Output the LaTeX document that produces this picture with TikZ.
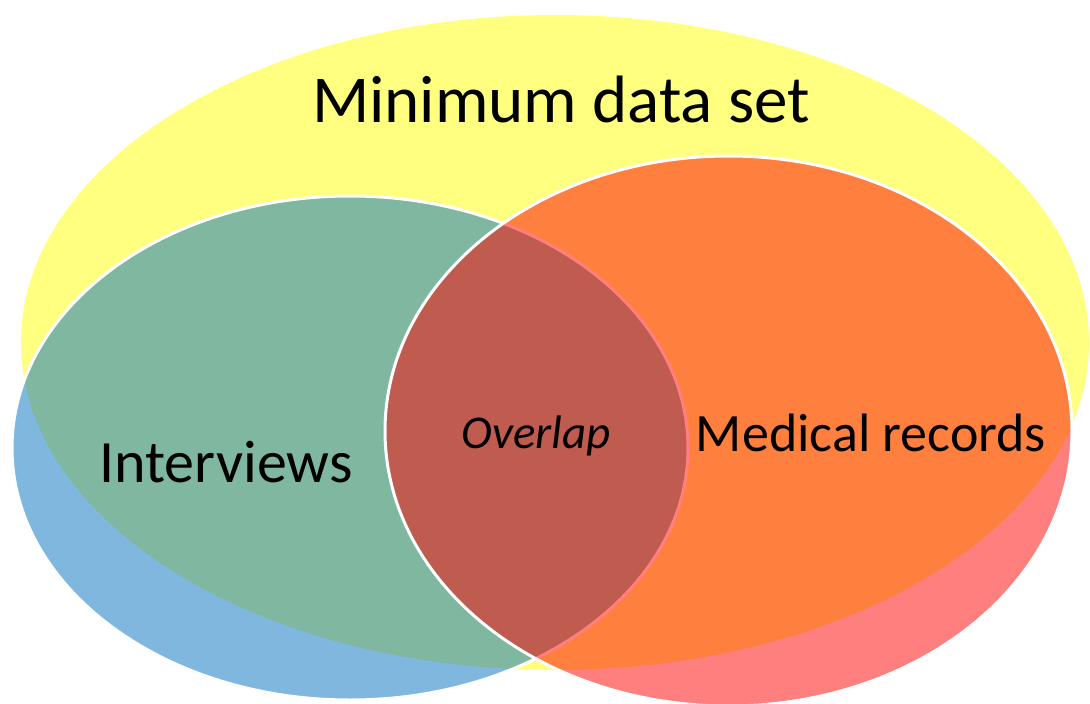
\documentclass[tikz,border=0pt]{standalone}
\usepackage{fontspec}
\setmainfont{Carlito}
\definecolor{yel}{HTML}{FFFF80}
\definecolor{blu}{HTML}{0070C0}
\definecolor{rd}{HTML}{FF0000}
\tikzset{
  setshape/.style={fill opacity=0.5, draw=white, draw opacity=1, line width=3pt},
  bigtxt/.style={anchor=base, inner sep=0pt, font=\fontsize{67}{74}\selectfont},
  midtxt/.style={anchor=base, inner sep=0pt, font=\fontsize{60}{66}\selectfont},
  medtxt/.style={anchor=base, inner sep=0pt, font=\fontsize{54}{60}\selectfont},
  smalltxt/.style={anchor=base, inner sep=0pt, font=\fontsize{47}{52}\selectfont\itshape},
}
\begin{document}
\begin{tikzpicture}[x=1pt,y=-1pt]
\useasboundingbox (0,0) rectangle (1090,704);
\fill[yel] (555,342.5) ellipse [x radius=534pt, y radius=327.5pt];
\path[setshape, fill=blu] (350,448) ellipse [x radius=338pt, y radius=252pt];
\path[setshape, fill=rd] (728.5,431) ellipse [x radius=343.5pt, y radius=275pt];
\node[bigtxt] (mds) at (561,122) {Minimum data set};
\node[midtxt] (int) at (226,482) {Interviews};
\node[medtxt] (med) at (871,451) {Medical records};
\node[smalltxt] (ovl) at (536,448) {Overlap};
\end{tikzpicture}
\end{document}
